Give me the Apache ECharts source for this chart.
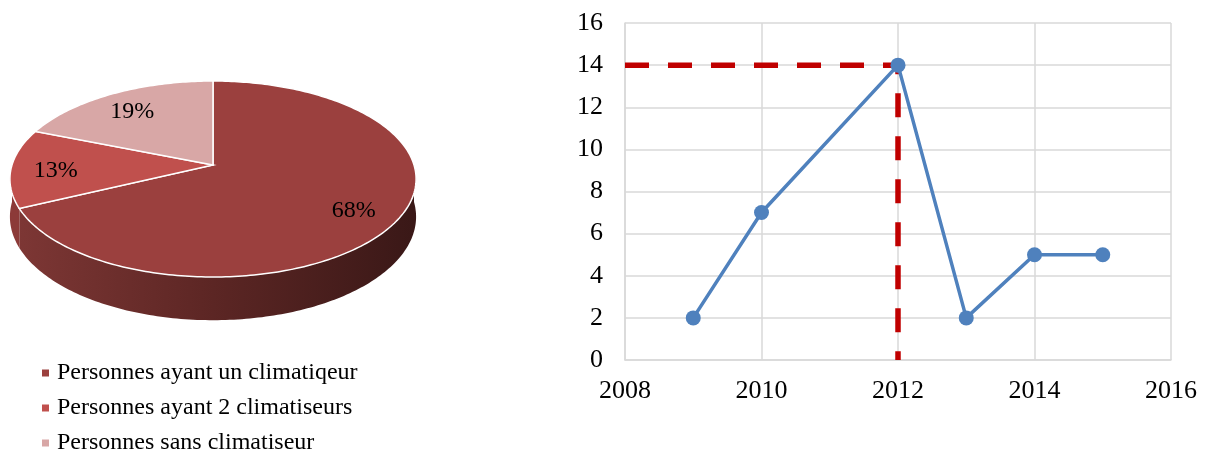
<!DOCTYPE html>
<html><head><meta charset="utf-8">
<script src="https://cdn.jsdelivr.net/npm/echarts@6/dist/echarts.min.js"></script>
<style>html,body{margin:0;padding:0;background:#fff}#c{width:1208px;height:450px}</style>
</head><body><div id="c"></div>
<script>
// ---- data ----
const pieNames = ['Personnes ayant un climatiqeur', 'Personnes ayant 2 climatiseurs', 'Personnes sans climatiseur'];
const pieValues = [68, 13, 19];
const pieColors = ['#9B403E', '#C0504D', '#D8A7A6'];
const years = [2009, 2010, 2012, 2013, 2014, 2015];
const counts = [2, 7, 14, 2, 5, 5];
const refX = [2008, 2012, 2012];
const refY = [14, 14, 0];

// ---- pie geometry (layout, tilted disc with slight perspective) ----
const CX = 213, CY = 165, AX = 201, BY = 96, K = 0.143, DEPTH = 37;
const FONT = '"Liberation Serif", "Times New Roman", serif';
const total = pieValues.reduce((a, b) => a + b, 0);
const starts = [];
pieValues.reduce((acc, v) => { starts.push(acc); return acc + v; }, 0);

function pt(tDeg, r, d) {
  const t = tDeg * Math.PI / 180;
  const u = r * Math.sin(t), v = r * Math.cos(t);
  const den = 1 + K * v;
  return [CX + AX * u / den, CY - BY * v / den + (d || 0) / den];
}
function arc(a0, a1, d) {
  const pts = [];
  const n = Math.max(2, Math.ceil(Math.abs(a1 - a0)));
  for (let k = 0; k <= n; k++) pts.push(pt(a0 + (a1 - a0) * k / n, 1, d));
  return pts;
}

function renderPie(params, api) {
  const i = params.dataIndex;
  const v = api.value(0);
  const a0 = 360 * starts[i] / total;
  const a1 = a0 + 360 * v / total;
  const children = [];
  const s = Math.max(a0, 90), e = Math.min(a1, 270);
  if (e > s) {
    const pts = arc(s, e, 0).concat(arc(e, s, DEPTH));
    children.push({
      type: 'polygon', z2: 1,
      shape: { points: pts },
      style: {
        fill: i === 0 ? {
          type: 'linear', x: CX - AX, y: 0, x2: CX + AX, y2: 0, global: true,
          colorStops: [{ offset: 0, color: '#7E3735' }, { offset: 0.5, color: '#5C2624' }, { offset: 1, color: '#3A1817' }]
        } : '#8C3A38'
      }
    });
  }
  children.push({
    type: 'polygon', z2: 2,
    shape: { points: [pt(0, 0, 0)].concat(arc(a0, a1, 0)) },
    style: { fill: pieColors[i], stroke: '#ffffff', lineWidth: 1.5 }
  });
  const lp = pt((a0 + a1) / 2, 0.78, 0);
  children.push({
    type: 'text', z2: 3,
    style: {
      text: Math.round(v / total * 100) + '%', x: lp[0], y: lp[1] + 3,
      textAlign: 'center', textVerticalAlign: 'middle', align: 'center', verticalAlign: 'middle',
      font: '24px ' + FONT, fill: '#000'
    }
  });
  return { type: 'group', children };
}

const chart = echarts.init(document.getElementById('c'), null, { renderer: 'canvas' });
chart.setOption({
  animation: false,
  backgroundColor: '#fff',
  legend: {
    data: pieNames, orient: 'vertical', left: 42, top: 361, height: 120, padding: 0,
    icon: 'rect', itemWidth: 7, itemHeight: 7, itemGap: 11,
    textStyle: { fontFamily: FONT, fontSize: 24, color: '#000', padding: [0, 0, 0, 3] },
    selectedMode: false
  },
  grid: { left: 625, right: 37, top: 23, bottom: 90, containLabel: false },
  xAxis: {
    type: 'value', min: 2008, max: 2016, interval: 2,
    axisLine: { show: true, lineStyle: { color: '#D9D9D9', width: 1.5 } },
    axisTick: { show: false },
    splitLine: { show: true, lineStyle: { color: '#D9D9D9', width: 1.5 } },
    axisLabel: { fontFamily: FONT, fontSize: 26, color: '#000', margin: 18, formatter: v => String(v) }
  },
  yAxis: {
    type: 'value', min: 0, max: 16, interval: 2,
    axisLine: { show: true, lineStyle: { color: '#D9D9D9', width: 1.5 } },
    axisTick: { show: false },
    splitLine: { show: true, lineStyle: { color: '#D9D9D9', width: 1.5 } },
    axisLabel: { fontFamily: FONT, fontSize: 26, color: '#000', margin: 22 }
  },
  series: [
    {
      type: 'pie', radius: [0, 0], center: [CX, CY], silent: true,
      label: { show: false }, labelLine: { show: false },
      data: pieNames.map((n, i) => ({ name: n, value: pieValues[i], itemStyle: { color: pieColors[i] } }))
    },
    {
      type: 'custom', coordinateSystem: 'none', silent: true,
      renderItem: renderPie,
      data: pieValues.map((v, i) => ({ value: [v], name: pieNames[i] }))
    },
    {
      type: 'line', z: 2, silent: true, symbol: 'none',
      data: refX.map((x, i) => [x, refY[i]]),
      lineStyle: { color: '#C00000', width: 5.5, type: [24, 19] }
    },
    {
      type: 'line', z: 3, silent: true, symbol: 'circle', symbolSize: 15,
      data: years.map((y, i) => [y, counts[i]]),
      itemStyle: { color: '#4F81BD' },
      lineStyle: { color: '#4F81BD', width: 3.5 }
    }
  ]
});
</script>
</body></html>
